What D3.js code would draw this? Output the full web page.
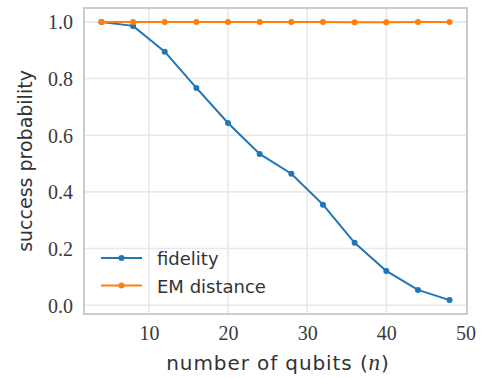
<!DOCTYPE html>
<html>
<head>
<meta charset="utf-8">
<script src="https://cdn.jsdelivr.net/npm/d3@7"></script>
<style>
html, body { margin: 0; padding: 0; background: #fff; }
svg { display: block; }
</style>
</head>
<body>
<svg id="chart" width="486" height="379"></svg>
<script>
const qubits = [4, 8, 12, 16, 20, 24, 28, 32, 36, 40, 44, 48];
const fidelity = [1.0, 0.986, 0.895, 0.767, 0.643, 0.534, 0.464, 0.355, 0.220, 0.121, 0.054, 0.018];
const emDistance = [1.0, 1.0, 1.0, 1.0, 1.0, 1.0, 1.0, 1.0, 0.999, 0.999, 1.0, 1.0];
const xTicks = [10, 20, 30, 40, 50];
const yTicks = [0.0, 0.2, 0.4, 0.6, 0.8, 1.0];
const seriesNames = ["fidelity", "EM distance"];
const seriesColors = ["#1f77b4", "#ff7f0e"];

const svg = d3.select("#chart");
const L = 84, R = 467, T = 8, B = 314;
const x = d3.scaleLinear().domain([1.8, 50.2]).range([L, R]);
const y = d3.scaleLinear().domain([-0.0311, 1.0491]).range([B, T]);

const serif = "'Liberation Serif', 'DejaVu Serif', serif";
const sans = "'DejaVu Sans', sans-serif";

// grid
const g = svg.append("g");
g.selectAll(".vg").data(xTicks.filter(d => x(d) < R - 2)).enter().append("line")
  .attr("x1", d => x(d)).attr("x2", d => x(d)).attr("y1", T).attr("y2", B)
  .attr("stroke", "#e8e8e8").attr("stroke-width", 1.6);
g.selectAll(".hg").data(yTicks).enter().append("line")
  .attr("x1", L).attr("x2", R).attr("y1", d => y(d)).attr("y2", d => y(d))
  .attr("stroke", "#e8e8e8").attr("stroke-width", 1.6);

// axes via d3 axis (no tick lines, no domain)
const xAxis = svg.append("g").attr("transform", `translate(0,${B})`)
  .call(d3.axisBottom(x).tickValues(xTicks).tickSize(0).tickPadding(12).tickFormat(d3.format("d")));
xAxis.select(".domain").remove();
xAxis.selectAll("text").attr("font-family", serif).attr("font-size", 20).attr("fill", "#3a3a3a")
  .attr("dy", "0.71em");

const yAxis = svg.append("g").attr("transform", `translate(${L},0)`)
  .call(d3.axisLeft(y).tickValues(yTicks).tickSize(0).tickPadding(11).tickFormat(d3.format(".1f")));
yAxis.select(".domain").remove();
yAxis.selectAll("text").attr("font-family", serif).attr("font-size", 20).attr("fill", "#3a3a3a")
  .attr("dy", "0.34em");

// frame
svg.append("rect").attr("x", L).attr("y", T).attr("width", R - L).attr("height", B - T)
  .attr("fill", "none").attr("stroke", "#cccccc").attr("stroke-width", 2);

// series
const allSeries = [fidelity, emDistance];
const line = d3.line().x((d, i) => x(qubits[i])).y(d => y(d));
allSeries.forEach((vals, k) => {
  svg.append("path").datum(vals).attr("d", line)
    .attr("fill", "none").attr("stroke", seriesColors[k]).attr("stroke-width", 2);
  svg.selectAll(".pt" + k).data(vals).enter().append("circle")
    .attr("cx", (d, i) => x(qubits[i])).attr("cy", d => y(d)).attr("r", 3)
    .attr("fill", seriesColors[k]);
});

// legend
const leg = svg.append("g");
seriesNames.forEach((name, k) => {
  const ly = 258 + k * 27.5;
  leg.append("line").attr("x1", 101).attr("x2", 142).attr("y1", ly).attr("y2", ly)
    .attr("stroke", seriesColors[k]).attr("stroke-width", 2);
  leg.append("circle").attr("cx", 121.5).attr("cy", ly).attr("r", 3).attr("fill", seriesColors[k]);
  leg.append("text").attr("x", 157).attr("y", ly + 7).text(name)
    .attr("font-family", sans).attr("font-size", 18).attr("fill", "#333");
});

// axis labels
const xl = svg.append("text").attr("x", 278).attr("y", 370).attr("text-anchor", "middle")
  .attr("font-family", sans).attr("font-size", 20).attr("letter-spacing", 0.9).attr("fill", "#333");
xl.append("tspan").text("number of qubits (");
xl.append("tspan").text("n").attr("font-family", serif).attr("font-style", "italic").attr("font-size", 23);
xl.append("tspan").text(")");

svg.append("text").attr("transform", `translate(32,${(T + B) / 2}) rotate(-90)`)
  .attr("text-anchor", "middle").attr("font-family", sans).attr("font-size", 19).attr("fill", "#333")
  .text("success probability");
</script>
</body>
</html>
